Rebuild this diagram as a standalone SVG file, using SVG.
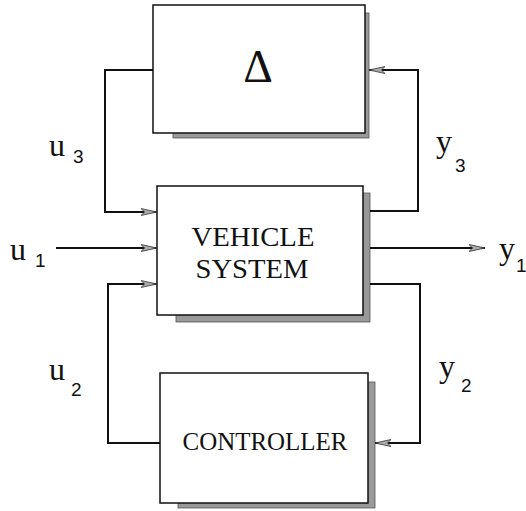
<svg xmlns="http://www.w3.org/2000/svg" width="526" height="511" viewBox="0 0 526 511">
<style>
.box{fill:#fff;stroke:#111;stroke-width:1.5}
.shadow{fill:#999;stroke:#555;stroke-width:0.8}
.wire{fill:none;stroke:#111;stroke-width:2}
.lbl{font-family:"Liberation Serif",serif;fill:#111}
.big{font-size:32px}
.sub{font-size:19px;font-family:"Liberation Sans",sans-serif;fill:#111}
.name{font-family:"Liberation Serif",serif;fill:#111;text-anchor:middle}
</style>
<defs>
<marker id="arr" viewBox="0 0 16 9" refX="16" refY="4.5" markerWidth="16" markerHeight="9" markerUnits="userSpaceOnUse" orient="auto">
<path d="M0,1 L16,4.5 L0,8 L3.5,4.5 Z" fill="#aaa" stroke="#333" stroke-width="0.8"/>
</marker>
</defs>
<g id="delta">
<rect class="shadow" x="173" y="13" width="196" height="125"/>
<rect class="box" x="153" y="5" width="212" height="128"/>
<text class="name" x="258" y="82" font-size="46">Δ</text>
</g>
<g id="vehicle">
<rect class="shadow" x="176" y="193" width="194" height="129"/>
<rect class="box" x="157" y="186" width="206" height="129"/>
<text class="name" x="253" y="246" font-size="28" textLength="123" lengthAdjust="spacingAndGlyphs">VEHICLE</text>
<text class="name" x="252" y="278" font-size="28" textLength="113" lengthAdjust="spacingAndGlyphs">SYSTEM</text>
</g>
<g id="controller">
<rect class="shadow" x="178" y="382" width="197" height="126"/>
<rect class="box" x="160" y="373" width="208" height="130"/>
<text class="name" x="265" y="450" font-size="26" textLength="165" lengthAdjust="spacingAndGlyphs">CONTROLLER</text>
</g>
<g id="connectors">
<path class="wire" d="M153,70 H105 V212 H157" marker-end="url(#arr)"/>
<path class="wire" d="M370,211 H418 V70 H369" marker-end="url(#arr)"/>
<path class="wire" d="M56,248 H157" marker-end="url(#arr)"/>
<path class="wire" d="M370,248 H485" marker-end="url(#arr)"/>
<path class="wire" d="M370,284 H420 V443 H375" marker-end="url(#arr)"/>
<path class="wire" d="M160,443 H108 V284 H157" marker-end="url(#arr)"/>
</g>
<g id="labels">
<text class="lbl big" x="49" y="156">u</text><text class="sub" x="73" y="163">3</text>
<text class="lbl big" x="10" y="260">u</text><text class="sub" x="35" y="267">1</text>
<text class="lbl big" x="49" y="380">u</text><text class="sub" x="71" y="396">2</text>
<text class="lbl big" x="436" y="152">y</text><text class="sub" x="455" y="172">3</text>
<text class="lbl big" x="499" y="259">y</text><text class="sub" x="516" y="272">1</text>
<text class="lbl big" x="439" y="377">y</text><text class="sub" x="461" y="392">2</text>
</g>
</svg>
